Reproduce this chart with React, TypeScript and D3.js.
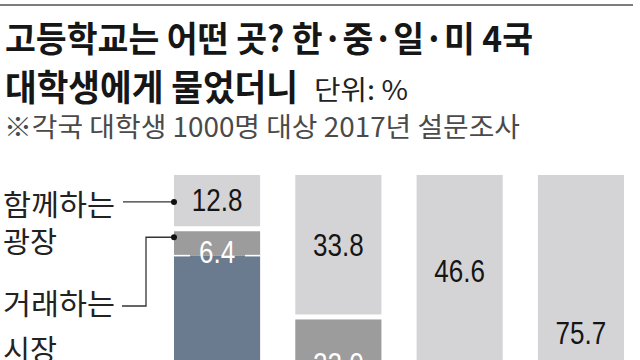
import React from 'react';
import * as d3 from 'd3';

// Data
const countries = ['한국', '중국', '일본', '미국'];
const seriesKeys = ['plaza', 'market', 'battle'];
const seriesNames = ['함께하는 광장', '거래하는 시장', '사활을 건 전장'];
const plaza = [12.8, 33.8, 46.6, 75.7];
const market = [6.4, 22.0, 9.0, 4.0];
const battle = [80.8, 44.2, 44.4, 20.3];

const titleLine1 = '고등학교는 어떤 곳? 한·중·일·미 4국';
const titleLine2 = '대학생에게 물었더니';
const unitText = '단위: %';
const noteText = '※각국 대학생 1000명 대상 2017년 설문조사';

const W = 640;
const H = 360;
const colors = ['#d4d4d6', '#9c9c9c', '#6a7b90'];
const labelColors = ['#151515', '#ffffff', '#ffffff'];
const gapsAfter = [5, 0];

export default function App() {
  const table = countries.map((c, i) => ({
    country: c,
    plaza: plaza[i],
    market: market[i],
    battle: battle[i],
  }));
  const stacked = d3.stack<any>().keys(seriesKeys)(table);

  const x = d3.scaleBand<string>().domain(countries).range([174, 624]).paddingInner(0.29);
  const y = d3.scaleLinear().domain([0, 100]).range([175, 595]);
  const bw = x.bandwidth();

  const kor = stacked.map((s) => s[0]);
  const leader1Y = (y(kor[0][0]) + y(kor[0][1])) / 2;
  const leader2Y = y(kor[1][0]) + gapsAfter[0] / 2 + 6;

  const cjk = '"Noto Sans CJK KR", "Noto Sans", sans-serif';
  const num = '"Liberation Sans", Arial, sans-serif';

  return (
    <svg
      width={W}
      height={H}
      viewBox={`0 0 ${W} ${H}`}
      style={{ position: 'absolute', left: 0, top: 0, background: '#fff' }}
    >
      <rect x={0} y={0} width={W} height={H} fill="#ffffff" />
      <line x1={0} x2={633} y1={5} y2={5} stroke="#7d7d7d" strokeWidth={2.2} />

      <text x={5} y={52} fontFamily={cjk} fontWeight={700} fontSize={35} fill="#161616"
        textLength={528} lengthAdjust="spacingAndGlyphs">{titleLine1}</text>
      <text x={5} y={101} fontFamily={cjk} fontWeight={700} fontSize={36} fill="#161616"
        textLength={293} lengthAdjust="spacingAndGlyphs">{titleLine2}</text>
      <text x={314} y={100} fontFamily={cjk} fontWeight={400} fontSize={27} fill="#222"
        textLength={94} lengthAdjust="spacingAndGlyphs">{unitText}</text>
      <text x={4} y={137} fontFamily={cjk} fontWeight={400} fontSize={27} fill="#4a4a4a"
        textLength={516} lengthAdjust="spacingAndGlyphs">{noteText}</text>

      {stacked.map((layer, k) => (
        <g key={seriesKeys[k]}>
          {layer.map((d, i) => {
            const x0 = x(countries[i]) as number;
            const top = y(d[0]) + (k > 0 ? gapsAfter[k - 1] / 2 : 0);
            const bottom = y(d[1]) - (k < gapsAfter.length ? gapsAfter[k] / 2 : 0);
            return (
              <rect key={i} x={x0} y={top} width={bw} height={Math.max(0, bottom - top)} fill={colors[k]} />
            );
          })}
        </g>
      ))}

      {stacked.map((layer, k) => (
        <g key={'lab' + seriesKeys[k]}>
          {layer.map((d, i) => {
            const x0 = x(countries[i]) as number;
            const cx = x0 + bw / 2;
            const top = y(d[0]) + (k > 0 ? gapsAfter[k - 1] / 2 : 0);
            const bottom = y(d[1]) - (k < gapsAfter.length ? gapsAfter[k] / 2 : 0);
            const v = d[1] - d[0];
            const small = bottom - top < 30;
            const ly = small ? bottom - 3 : (top + bottom) / 2;
            if (ly - 12 > H) return null;
            return (
              <g key={i}>
                {small && (
                  <>
                    <line x1={x0} x2={cx - 27} y1={bottom} y2={bottom} stroke="#fff" strokeWidth={1.6} />
                    <line x1={cx + 28} x2={x0 + bw} y1={bottom} y2={bottom} stroke="#fff" strokeWidth={1.6} />
                  </>
                )}
                <g transform={`translate(${cx},${ly}) scale(0.84,1)`}>
                  <text x={0} y={0} textAnchor="middle" dominantBaseline="central"
                    fontFamily={num} fontSize={31} fill={labelColors[k]}>
                    {v.toFixed(1)}
                  </text>
                </g>
              </g>
            );
          })}
        </g>
      ))}

      {/* Left annotation labels */}
      <text fontFamily={cjk} fontSize={29} fill="#222">
        <tspan x={3} y={216} textLength={112} lengthAdjust="spacingAndGlyphs">함께하는</tspan>
        <tspan x={3} y={253} textLength={54} lengthAdjust="spacingAndGlyphs">광장</tspan>
      </text>
      <text fontFamily={cjk} fontSize={29} fill="#222">
        <tspan x={3} y={315} textLength={112} lengthAdjust="spacingAndGlyphs">거래하는</tspan>
        <tspan x={3} y={361} textLength={54} lengthAdjust="spacingAndGlyphs">시장</tspan>
      </text>

      <line x1={123} x2={174} y1={leader1Y} y2={leader1Y} stroke="#333" strokeWidth={1.3} />
      <circle cx={174} cy={leader1Y} r={3} fill="#111" />
      <path d={`M122,306 H146 V${leader2Y} H174`} fill="none" stroke="#333" strokeWidth={1.3} />
      <circle cx={174} cy={leader2Y} r={3} fill="#111" />
    </svg>
  );
}
